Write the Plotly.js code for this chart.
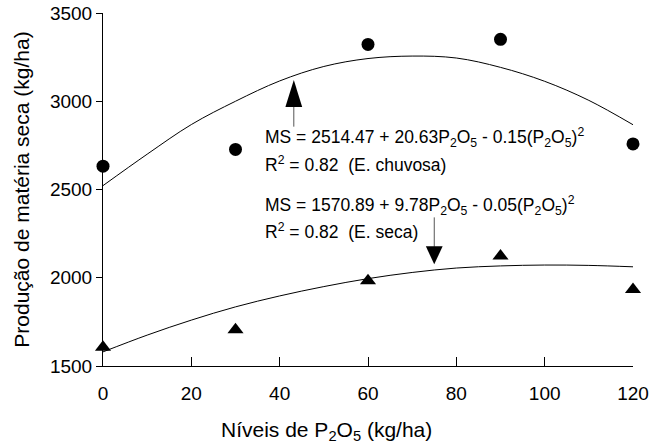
<!DOCTYPE html>
<html>
<head>
<meta charset="utf-8">
<script src="https://cdn.plot.ly/plotly-3.0.1.min.js"></script>
<style>html,body{margin:0;padding:0;background:#fff;}#chart{width:654px;height:447px;}</style>
</head>
<body>
<div id="chart"></div>
<script>
// Observed data
const levels = [0, 30, 60, 90, 120];
const rainySeason = [2632, 2727, 3322, 3351, 2758];
const drySeason = [1606, 1706, 1983, 2123, 1933];

// Fitted curves
const curveX = [0, 10, 20, 30, 40, 50, 60, 70, 80, 90, 100, 110, 120];
const rainyCurve = [2522, 2700, 2868, 3000, 3115, 3197, 3242, 3256, 3245, 3192, 3113, 3005, 2867];
const dryCurve = [1580, 1675, 1760, 1835, 1897, 1950, 1995, 2030, 2055, 2067, 2072, 2070, 2062];

const xTicks = [0, 20, 40, 60, 80, 100, 120];
const yTicks = [1500, 2000, 2500, 3000, 3500];

const xTitle = 'Níveis de P<sub>2</sub>O<sub>5</sub> (kg/ha)';
const yTitle = 'Produção de matéria seca (kg/ha)';
const eqRainy = 'MS = 2514.47 + 20.63P<sub>2</sub>O<sub>5</sub> - 0.15(P<sub>2</sub>O<sub>5</sub>)<sup>2</sup>';
const r2Rainy = 'R<sup>2</sup> = 0.82\u00a0 (E. chuvosa)';
const eqDry = 'MS = 1570.89 + 9.78P<sub>2</sub>O<sub>5</sub> - 0.05(P<sub>2</sub>O<sub>5</sub>)<sup>2</sup>';
const r2Dry = 'R<sup>2</sup> = 0.82\u00a0 (E. seca)';

const FONT = 'Arial, "Liberation Sans", sans-serif';

const traces = [
  {x: curveX, y: rainyCurve, mode: 'lines', line: {color: '#000', width: 1, shape: 'spline'}, hoverinfo: 'skip'},
  {x: curveX, y: dryCurve, mode: 'lines', line: {color: '#000', width: 1, shape: 'spline'}, hoverinfo: 'skip'},
  {x: levels, y: rainySeason, mode: 'markers', marker: {symbol: 'circle', size: 13, color: '#000'}, cliponaxis: false},
  {x: levels, y: drySeason, mode: 'markers', marker: {symbol: 'triangle-up', size: 14, color: '#000'}, cliponaxis: false}
];

function ann(x, y, text) {
  return {x: x, y: y, xref: 'x', yref: 'y', text: text, showarrow: false, xanchor: 'left', yanchor: 'middle',
          font: {family: FONT, size: 17.5, color: '#000'}};
}

const layout = {
  width: 654, height: 447,
  margin: {l: 103, r: 21, t: 13, b: 81},
  paper_bgcolor: '#fff', plot_bgcolor: '#fff',
  showlegend: false,
  font: {family: FONT, color: '#000'},
  xaxis: {
    range: [0, 120], tickvals: xTicks, ticktext: xTicks.map(String),
    ticks: 'inside', ticklen: 9, tickcolor: '#000', tickwidth: 1,
    showline: true, linecolor: '#000', linewidth: 1, showgrid: false, zeroline: false,
    tickfont: {family: FONT, size: 19, color: '#000'},
    ticklabelstandoff: 10
  },
  yaxis: {
    range: [1500, 3500], tickvals: yTicks, ticktext: yTicks.map(String),
    ticks: 'outside', ticklen: 6, tickcolor: '#000', tickwidth: 1,
    showline: true, linecolor: '#000', linewidth: 1, showgrid: false, zeroline: false,
    tickfont: {family: FONT, size: 19, color: '#000'},
    title: {text: yTitle, font: {family: FONT, size: 21, color: '#000'}, standoff: 14}
  },
  annotations: [
    {x: 0.4208, y: -0.184, xref: 'paper', yref: 'paper', text: xTitle, showarrow: false,
     xanchor: 'center', yanchor: 'middle', font: {family: FONT, size: 21, color: '#000'}},
    ann(36.2, 2795, eqRainy),
    ann(36.2, 2643, r2Rainy),
    ann(36.2, 2412, eqDry),
    ann(36.2, 2265, r2Dry)
  ],
  shapes: [
    // up arrow (rainy season)
    {type: 'line', xref: 'x', yref: 'y', x0: 43.2, x1: 43.2, y0: 2856, y1: 2975, line: {color: '#555', width: 1}},
    {type: 'path', xref: 'x', yref: 'y', path: 'M 41.3,2968 L 43.2,3121 L 45.1,2968 Z', fillcolor: '#000', line: {width: 0}},
    // down arrow (dry season)
    {type: 'line', xref: 'x', yref: 'y', x0: 75.0, x1: 75.0, y0: 2342, y1: 2175, line: {color: '#555', width: 1}},
    {type: 'path', xref: 'x', yref: 'y', path: 'M 73.1,2178 L 75.0,2076 L 76.9,2178 Z', fillcolor: '#000', line: {width: 0}}
  ]
};

Plotly.newPlot('chart', traces, layout, {displayModeBar: false, staticPlot: true});
</script>
</body>
</html>
